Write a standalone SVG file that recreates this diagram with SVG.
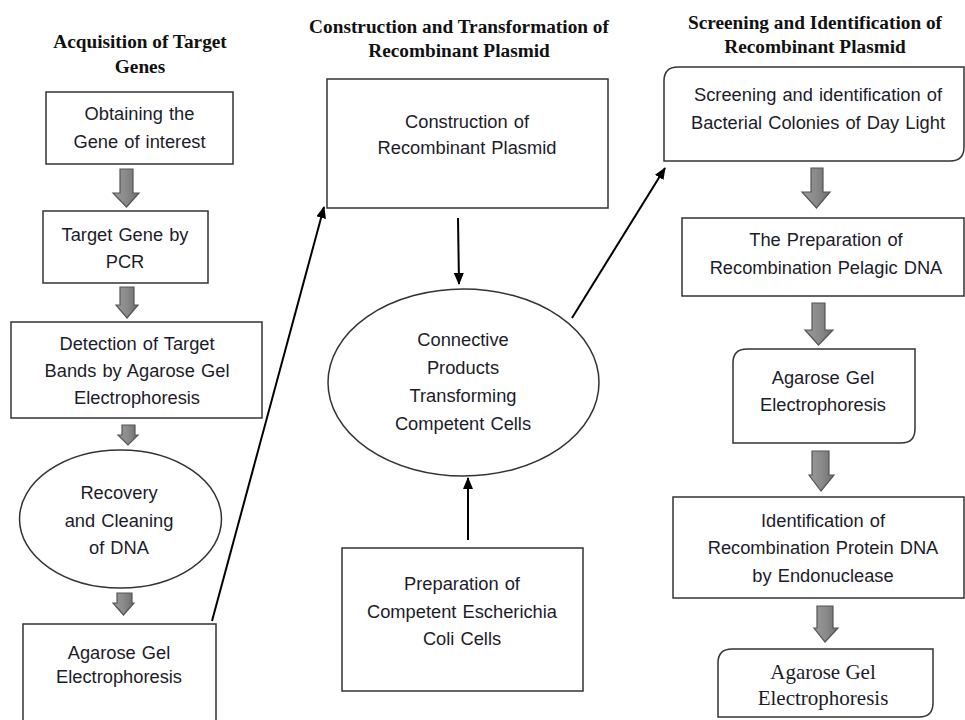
<svg xmlns="http://www.w3.org/2000/svg" width="965" height="720" viewBox="0 0 965 720">
<defs>
<marker id="ah" markerUnits="userSpaceOnUse" markerWidth="12" markerHeight="10" refX="11" refY="5" orient="auto">
<path d="M0,0 L12,5 L0,10 Z" fill="#000"/>
</marker>
<linearGradient id="bg" x1="0" y1="0" x2="1" y2="0">
<stop offset="0" stop-color="#9a9a9a"/>
<stop offset="0.5" stop-color="#8a8a8a"/>
<stop offset="1" stop-color="#6e6e6e"/>
</linearGradient>
<style>
.box{fill:#fff;stroke:#333;stroke-width:1.5}
.t{font-family:"Liberation Sans",Arial,sans-serif;font-size:18.3px;fill:#1c1c2a;text-anchor:middle;word-spacing:1px}
.ts{font-family:"Liberation Serif","Times New Roman",serif;font-size:21px;fill:#1c1c2a;text-anchor:middle}
.h{font-family:"Liberation Serif","Times New Roman",serif;font-size:19.3px;font-weight:bold;fill:#111;text-anchor:middle}
.ba{fill:url(#bg);stroke:#555;stroke-width:1.2}
.c{stroke:#000;stroke-width:2;fill:none;marker-end:url(#ah)}
</style>
</defs>
<rect width="965" height="720" fill="#fff"/>

<g id="headers">
<text class="h" x="140" y="48">Acquisition of Target</text>
<text class="h" x="140" y="73">Genes</text>
<text class="h" x="459" y="33">Construction and Transformation of</text>
<text class="h" x="459" y="57">Recombinant Plasmid</text>
<text class="h" x="815" y="29">Screening and Identification of</text>
<text class="h" x="815" y="53">Recombinant Plasmid</text>
</g>

<g id="block-arrows">
<path class="ba" d="M120,169 H133 V193 H139 L126.5,207 L113,193 H120 Z"/>
<path class="ba" d="M120,287 H134 V305 H138 L127,318 L116,305 H120 Z"/>
<path class="ba" d="M122,425 H135 V435 H138 L128,445 L118,435 H122 Z"/>
<path class="ba" d="M117,593 H132 V603 H134 L123.5,615 L113,603 H117 Z"/>
<path class="ba" d="M811,168 H823 V192 H830 L816.5,208 L802,192 H811 Z"/>
<path class="ba" d="M812,303 H825 V330 H833 L818.5,345 L805,330 H812 Z"/>
<path class="ba" d="M812,451 H829 V475 H834 L821,491 L809,475 H812 Z"/>
<path class="ba" d="M817,606 H833 V628 H838 L825,642 L814,628 H817 Z"/>
</g>

<g id="n1">
<rect class="box" x="46" y="92" width="187" height="72"/>
<text class="t" x="139.5" y="120">Obtaining the</text>
<text class="t" x="139.5" y="148">Gene of interest</text>
</g>
<g id="n2">
<rect class="box" x="43" y="211" width="165" height="72"/>
<text class="t" x="125" y="241">Target Gene by</text>
<text class="t" x="125" y="268">PCR</text>
</g>
<g id="n3">
<rect class="box" x="11" y="322" width="251" height="96"/>
<text class="t" x="137" y="350">Detection of Target</text>
<text class="t" x="137" y="377">Bands by Agarose Gel</text>
<text class="t" x="137" y="404">Electrophoresis</text>
</g>
<g id="n4">
<ellipse class="box" cx="120.5" cy="519" rx="101" ry="69"/>
<text class="t" x="119" y="499">Recovery</text>
<text class="t" x="119" y="527">and Cleaning</text>
<text class="t" x="119" y="554">of DNA</text>
</g>
<g id="n5">
<rect class="box" x="23" y="624" width="193" height="100"/>
<text class="t" x="119" y="659">Agarose Gel</text>
<text class="t" x="119" y="683">Electrophoresis</text>
</g>

<g id="n6">
<rect class="box" x="327" y="79" width="281" height="129"/>
<text class="t" x="467" y="128">Construction of</text>
<text class="t" x="467" y="154">Recombinant Plasmid</text>
</g>
<g id="n7">
<ellipse class="box" cx="463.5" cy="382.5" rx="135.5" ry="93.5"/>
<text class="t" x="463" y="346">Connective</text>
<text class="t" x="463" y="374">Products</text>
<text class="t" x="463" y="402">Transforming</text>
<text class="t" x="463" y="430">Competent Cells</text>
</g>
<g id="n8">
<rect class="box" x="342" y="548" width="241" height="143"/>
<text class="t" x="462" y="590">Preparation of</text>
<text class="t" x="462" y="618">Competent Escherichia</text>
<text class="t" x="462" y="645">Coli Cells</text>
</g>

<g id="n9">
<path class="box" d="M678,67 H964 V147 Q964,161 950,161 H664 V81 Q664,67 678,67 Z"/>
<text class="t" x="818" y="101">Screening and identification of</text>
<text class="t" x="818" y="129">Bacterial Colonies of Day Light</text>
</g>
<g id="n10">
<rect class="box" x="682" y="218" width="282" height="78"/>
<text class="t" x="826" y="246">The Preparation of</text>
<text class="t" x="826" y="274">Recombination Pelagic DNA</text>
</g>
<g id="n11">
<path class="box" d="M747,349 H915 V429 Q915,443 901,443 H733 V363 Q733,349 747,349 Z"/>
<text class="t" x="823" y="384">Agarose Gel</text>
<text class="t" x="823" y="411">Electrophoresis</text>
</g>
<g id="n12">
<rect class="box" x="673" y="497" width="291" height="101"/>
<text class="t" x="823" y="527">Identification of</text>
<text class="t" x="823" y="554">Recombination Protein DNA</text>
<text class="t" x="823" y="582">by Endonuclease</text>
</g>
<g id="n13">
<path class="box" d="M732,649 H933 V703 Q933,717 919,717 H718 V663 Q718,649 732,649 Z"/>
<text class="ts" x="823" y="679">Agarose Gel</text>
<text class="ts" x="823" y="705">Electrophoresis</text>
</g>

<g id="connectors">
<line class="c" x1="212" y1="621" x2="324" y2="207"/>
<line class="c" x1="458" y1="218" x2="459" y2="284"/>
<line class="c" x1="468" y1="540" x2="468" y2="478"/>
<line class="c" x1="572" y1="318" x2="665" y2="168"/>
</g>
</svg>
